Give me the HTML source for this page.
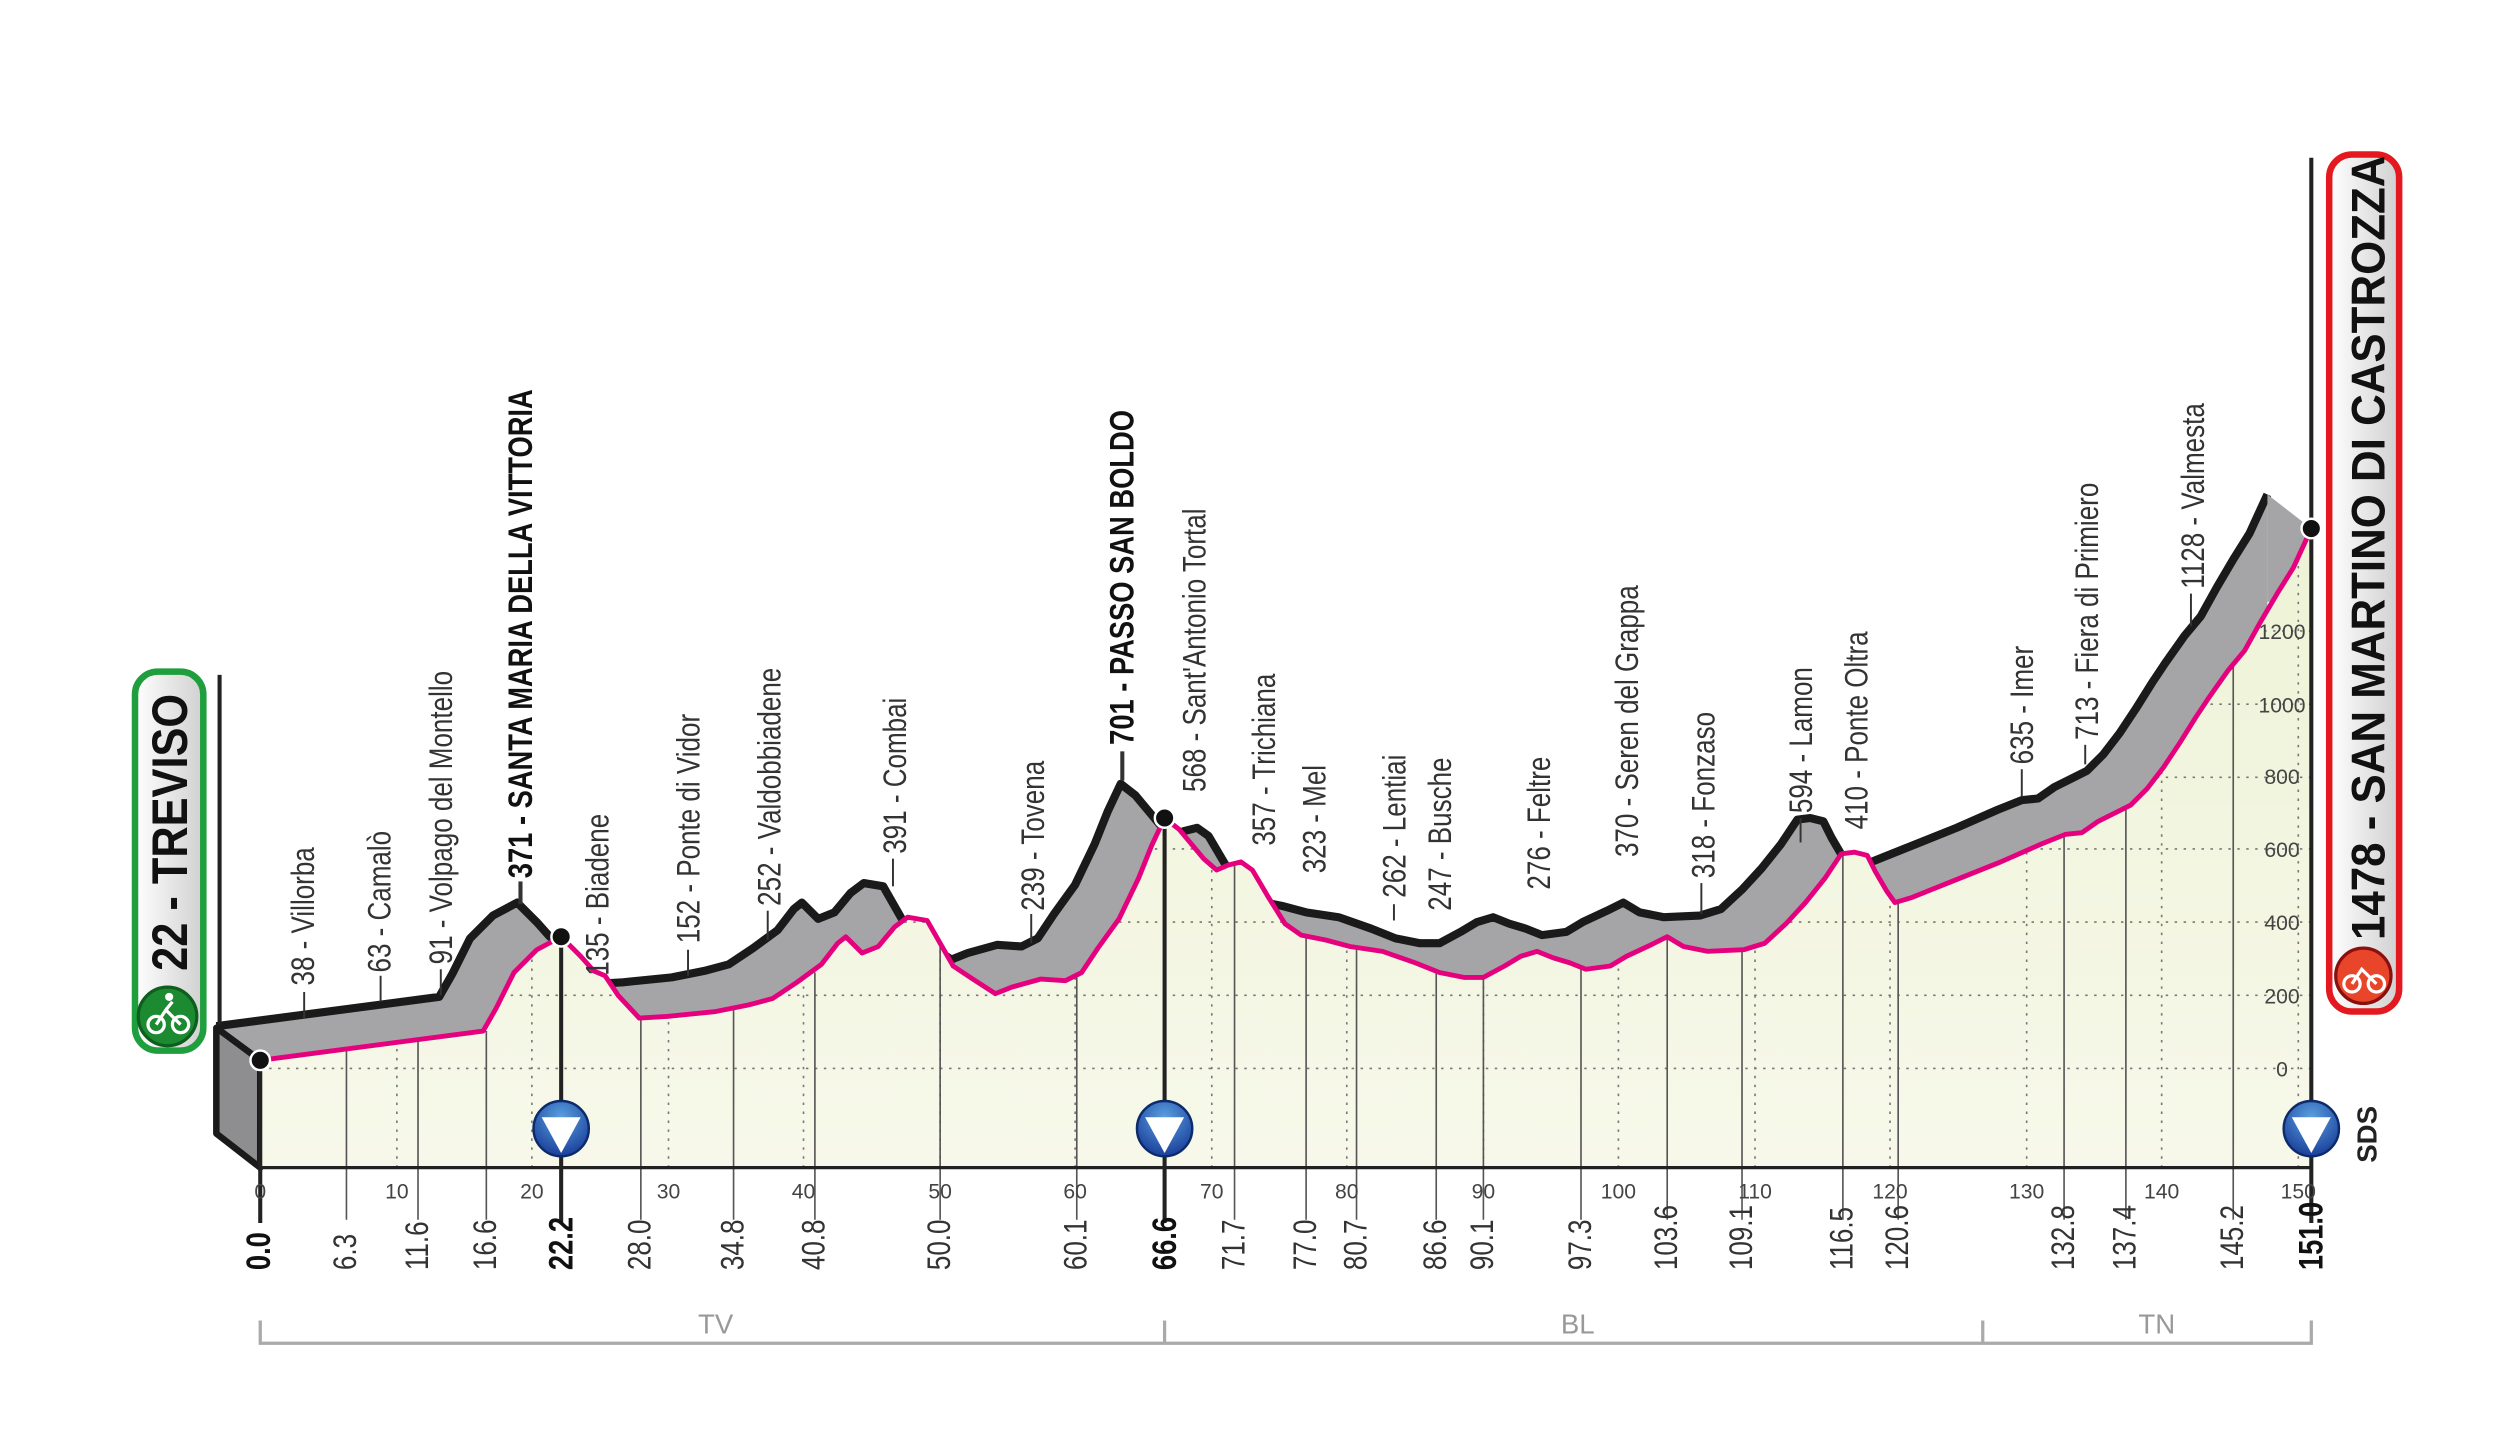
<!DOCTYPE html>
<html><head><meta charset="utf-8"><style>
html,body{margin:0;padding:0;background:#fff;}
svg{display:block}
.n{font-family:"Liberation Sans",sans-serif;font-size:20px;fill:#333}
.b{font-family:"Liberation Sans",sans-serif;font-size:21px;font-weight:bold;fill:#111}
.k{font-family:"Liberation Sans",sans-serif;font-size:13px;fill:#444}
</style></head><body>
<svg width="2513" height="1436" viewBox="0 0 1545 883" preserveAspectRatio="none" xmlns="http://www.w3.org/2000/svg">
<defs>
<linearGradient id="pale" x1="0" y1="0" x2="0" y2="1"><stop offset="0" stop-color="#eef3d6"/><stop offset="1" stop-color="#f7f8ea"/></linearGradient>
<linearGradient id="gr" x1="0" y1="0" x2="1" y2="0"><stop offset="0" stop-color="#fff"/><stop offset="1" stop-color="#d0d0d0"/></linearGradient>
<radialGradient id="blue" cx="0.5" cy="0.3" r="0.7"><stop offset="0" stop-color="#5aa0e0"/><stop offset="1" stop-color="#1a3f9a"/></radialGradient>
<polyline id="prof" points="160,652 297,634 305,620 316,598 330,584 345,576 357,588 365,597 372,600 380,612 393,626 410,625 440,622 460,618 475,614 490,604 505,593 515,580 520,576 530,586 540,582 550,570 558,564 570,566 578,580 586,594 598,602 612,611 622,607 640,602 655,603 665,598 675,583 688,565 700,540 708,520 716,503 725,510 740,528 748,535 755,532 763,530 770,535 780,552 790,568 800,575 815,578 830,582 850,585 870,592 885,598 900,601 912,601 925,594 935,588 945,585 955,589 965,592 975,596 990,594 1000,588 1015,581 1025,576 1035,582 1050,585 1072,584 1085,580 1098,568 1110,555 1122,540 1132,525 1140,524 1148,526 1153,536 1160,548 1165,555 1175,552 1200,542 1230,530 1255,519 1270,513 1280,512 1290,505 1310,495 1320,485 1330,472 1340,457 1350,441 1358,429 1370,412 1380,400 1390,382 1400,365 1410,349 1421,325"/>
<polygon id="front" points="160,652 297,634 305,620 316,598 330,584 345,576 357,588 365,597 372,600 380,612 393,626 410,625 440,622 460,618 475,614 490,604 505,593 515,580 520,576 530,586 540,582 550,570 558,564 570,566 578,580 586,594 598,602 612,611 622,607 640,602 655,603 665,598 675,583 688,565 700,540 708,520 716,503 725,510 740,528 748,535 755,532 763,530 770,535 780,552 790,568 800,575 815,578 830,582 850,585 870,592 885,598 900,601 912,601 925,594 935,588 945,585 955,589 965,592 975,596 990,594 1000,588 1015,581 1025,576 1035,582 1050,585 1072,584 1085,580 1098,568 1110,555 1122,540 1132,525 1140,524 1148,526 1153,536 1160,548 1165,555 1175,552 1200,542 1230,530 1255,519 1270,513 1280,512 1290,505 1310,495 1320,485 1330,472 1340,457 1350,441 1358,429 1370,412 1380,400 1390,382 1400,365 1410,349 1421,325 1421,718 160,718"/>
<clipPath id="fc"><use href="#front"/></clipPath>
</defs>
<!-- back -->
<g transform="translate(-27,-21)">
<use href="#front" fill="#a5a5a7"/>
<use href="#prof" fill="none" stroke="#1a1a1a" stroke-width="5" stroke-linejoin="round"/>
</g>
<polygon points="1394,304 1421,325 1421,370 1394,370" fill="#a5a5a7"/>
<polygon points="133,632 160,652 160,718 133,697" fill="#8e8e90" stroke="#1a1a1a" stroke-width="4" stroke-linejoin="round"/>
<!-- front -->
<use href="#front" fill="url(#pale)"/>
<!-- grid -->
<g stroke="#777" stroke-width="1" stroke-dasharray="1.5,4" clip-path="url(#fc)">
<line x1="160" y1="657" x2="1421" y2="657"/><line x1="160" y1="612" x2="1421" y2="612"/><line x1="160" y1="567" x2="1421" y2="567"/>
<line x1="160" y1="522" x2="1421" y2="522"/><line x1="160" y1="478" x2="1421" y2="478"/><line x1="160" y1="433" x2="1421" y2="433"/><line x1="160" y1="388" x2="1421" y2="388"/>
<line x1="244" y1="718" x2="244" y2="300"/><line x1="327" y1="718" x2="327" y2="300"/><line x1="411" y1="718" x2="411" y2="300"/><line x1="494" y1="718" x2="494" y2="300"/><line x1="578" y1="718" x2="578" y2="300"/><line x1="661" y1="718" x2="661" y2="300"/><line x1="745" y1="718" x2="745" y2="300"/><line x1="828" y1="718" x2="828" y2="300"/><line x1="912" y1="718" x2="912" y2="300"/><line x1="995" y1="718" x2="995" y2="300"/><line x1="1079" y1="718" x2="1079" y2="300"/><line x1="1162" y1="718" x2="1162" y2="300"/><line x1="1246" y1="718" x2="1246" y2="300"/><line x1="1329" y1="718" x2="1329" y2="300"/><line x1="1413" y1="718" x2="1413" y2="300"/>
</g>
<g stroke="#555" stroke-width="1">
<line x1="213" y1="750" x2="213" y2="646"/><line x1="257" y1="750" x2="257" y2="640"/><line x1="299" y1="750" x2="299" y2="634"/><line x1="394" y1="750" x2="394" y2="626"/><line x1="451" y1="750" x2="451" y2="620"/><line x1="501" y1="750" x2="501" y2="598"/><line x1="578" y1="750" x2="578" y2="580"/><line x1="662" y1="750" x2="662" y2="601"/><line x1="759" y1="750" x2="759" y2="530"/><line x1="803" y1="750" x2="803" y2="575"/><line x1="834" y1="750" x2="834" y2="582"/><line x1="883" y1="750" x2="883" y2="597"/><line x1="912" y1="750" x2="912" y2="601"/><line x1="972" y1="750" x2="972" y2="596"/><line x1="1025" y1="750" x2="1025" y2="577"/><line x1="1071" y1="750" x2="1071" y2="584"/><line x1="1133" y1="750" x2="1133" y2="525"/><line x1="1167" y1="750" x2="1167" y2="553"/><line x1="1269" y1="750" x2="1269" y2="514"/><line x1="1307" y1="750" x2="1307" y2="497"/><line x1="1373" y1="750" x2="1373" y2="410"/>
</g>
<use href="#prof" fill="none" stroke="#e5007e" stroke-width="3" stroke-linejoin="round"/>
<!-- axis -->
<line x1="160" y1="718" x2="1421" y2="718" stroke="#222" stroke-width="2"/>
<line x1="160" y1="652" x2="160" y2="752" stroke="#222" stroke-width="2.5"/>
<line x1="345" y1="576" x2="345" y2="752" stroke="#222" stroke-width="2.5"/>
<line x1="716" y1="503" x2="716" y2="752" stroke="#222" stroke-width="2.5"/>
<line x1="1421" y1="97" x2="1421" y2="752" stroke="#222" stroke-width="2.5"/>
<line x1="135" y1="415" x2="135" y2="630" stroke="#222" stroke-width="2.5"/>
<circle cx="160" cy="652" r="6" fill="#111" stroke="#fff" stroke-width="1.5"/>
<circle cx="345" cy="576" r="6" fill="#111" stroke="#fff" stroke-width="1.5"/>
<circle cx="716" cy="503" r="6" fill="#111" stroke="#fff" stroke-width="1.5"/>
<circle cx="1421" cy="325" r="6" fill="#111" stroke="#fff" stroke-width="1.5"/>
<!-- y labels -->
<g class="k" text-anchor="middle">
<text x="1403" y="662">0</text><text x="1403" y="617">200</text><text x="1403" y="572">400</text><text x="1403" y="527">600</text><text x="1403" y="482">800</text><text x="1403" y="438">1000</text><text x="1403" y="393">1200</text>
<text x="160" y="737">0</text><text x="244" y="737">10</text><text x="327" y="737">20</text><text x="411" y="737">30</text><text x="494" y="737">40</text><text x="578" y="737">50</text><text x="661" y="737">60</text><text x="745" y="737">70</text><text x="828" y="737">80</text><text x="912" y="737">90</text><text x="995" y="737">100</text><text x="1079" y="737">110</text><text x="1162" y="737">120</text><text x="1246" y="737">130</text><text x="1329" y="737">140</text><text x="1413" y="737">150</text>
</g>
<!-- distance labels -->
<g class="n">
<text transform="translate(166,781) rotate(-90) scale(0.8,1)" class="b">0.0</text>
<text transform="translate(219,781) rotate(-90) scale(0.8,1)">6.3</text>
<text transform="translate(263,781) rotate(-90) scale(0.8,1)">11.6</text>
<text transform="translate(305,781) rotate(-90) scale(0.8,1)">16.6</text>
<text transform="translate(352,781) rotate(-90) scale(0.8,1)" class="b">22.2</text>
<text transform="translate(400,781) rotate(-90) scale(0.8,1)">28.0</text>
<text transform="translate(457,781) rotate(-90) scale(0.8,1)">34.8</text>
<text transform="translate(507,781) rotate(-90) scale(0.8,1)">40.8</text>
<text transform="translate(584,781) rotate(-90) scale(0.8,1)">50.0</text>
<text transform="translate(668,781) rotate(-90) scale(0.8,1)">60.1</text>
<text transform="translate(723,781) rotate(-90) scale(0.8,1)" class="b">66.6</text>
<text transform="translate(765,781) rotate(-90) scale(0.8,1)">71.7</text>
<text transform="translate(809,781) rotate(-90) scale(0.8,1)">77.0</text>
<text transform="translate(840,781) rotate(-90) scale(0.8,1)">80.7</text>
<text transform="translate(889,781) rotate(-90) scale(0.8,1)">86.6</text>
<text transform="translate(918,781) rotate(-90) scale(0.8,1)">90.1</text>
<text transform="translate(978,781) rotate(-90) scale(0.8,1)">97.3</text>
<text transform="translate(1031,781) rotate(-90) scale(0.8,1)">103.6</text>
<text transform="translate(1077,781) rotate(-90) scale(0.8,1)">109.1</text>
<text transform="translate(1139,781) rotate(-90) scale(0.8,1)">116.5</text>
<text transform="translate(1173,781) rotate(-90) scale(0.8,1)">120.6</text>
<text transform="translate(1275,781) rotate(-90) scale(0.8,1)">132.8</text>
<text transform="translate(1313,781) rotate(-90) scale(0.8,1)">137.4</text>
<text transform="translate(1379,781) rotate(-90) scale(0.8,1)">145.2</text>
<text transform="translate(1428,781) rotate(-90) scale(0.8,1)" class="b">151.0</text>
</g>
<!-- place labels -->
<g stroke="#333" stroke-width="1.2">
<line x1="187" y1="610" x2="187" y2="626"/><line x1="234" y1="600" x2="234" y2="616"/><line x1="271" y1="596" x2="271" y2="612"/>
<line x1="320" y1="542" x2="320" y2="556" stroke-width="2.5"/><line x1="690" y1="462" x2="690" y2="480" stroke-width="2.5"/>
<line x1="423" y1="584" x2="423" y2="600"/><line x1="472" y1="560" x2="472" y2="578"/><line x1="549" y1="528" x2="549" y2="545"/><line x1="634" y1="562" x2="634" y2="580"/>
<line x1="857" y1="556" x2="857" y2="566"/><line x1="1046" y1="543" x2="1046" y2="562"/><line x1="1107" y1="503" x2="1107" y2="518"/><line x1="1243" y1="473" x2="1243" y2="490"/><line x1="1282" y1="458" x2="1282" y2="470"/><line x1="1347" y1="365" x2="1347" y2="385"/>
</g>
<g class="n">
<text transform="translate(193,606) rotate(-90) scale(0.8,1)">38 - Villorba</text>
<text transform="translate(240,598) rotate(-90) scale(0.8,1)">63 - Camalò</text>
<text transform="translate(278,593) rotate(-90) scale(0.8,1)">91 - Volpago del Montello</text>
<text transform="translate(327,540) rotate(-90) scale(0.8,1)" class="b">371 - SANTA MARIA DELLA VITTORIA</text>
<text transform="translate(374,600) rotate(-90) scale(0.8,1)">135 - Biadene</text>
<text transform="translate(430,580) rotate(-90) scale(0.8,1)">152 - Ponte di Vidor</text>
<text transform="translate(480,557) rotate(-90) scale(0.8,1)">252 - Valdobbiadene</text>
<text transform="translate(557,525) rotate(-90) scale(0.8,1)">391 - Combai</text>
<text transform="translate(642,560) rotate(-90) scale(0.8,1)">239 - Tovena</text>
<text transform="translate(697,458) rotate(-90) scale(0.8,1)" class="b">701 - PASSO SAN BOLDO</text>
<text transform="translate(741,487) rotate(-90) scale(0.8,1)">568 - Sant'Antonio Tortal</text>
<text transform="translate(784,520) rotate(-90) scale(0.8,1)">357 - Trichiana</text>
<text transform="translate(815,537) rotate(-90) scale(0.8,1)">323 - Mel</text>
<text transform="translate(864,552) rotate(-90) scale(0.8,1)">262 - Lentiai</text>
<text transform="translate(892,560) rotate(-90) scale(0.8,1)">247 - Busche</text>
<text transform="translate(953,547) rotate(-90) scale(0.8,1)">276 - Feltre</text>
<text transform="translate(1007,527) rotate(-90) scale(0.8,1)">370 - Seren del Grappa</text>
<text transform="translate(1054,540) rotate(-90) scale(0.8,1)">318 - Fonzaso</text>
<text transform="translate(1114,500) rotate(-90) scale(0.8,1)">594 - Lamon</text>
<text transform="translate(1148,510) rotate(-90) scale(0.8,1)">410 - Ponte Oltra</text>
<text transform="translate(1250,470) rotate(-90) scale(0.8,1)">635 - Imer</text>
<text transform="translate(1290,455) rotate(-90) scale(0.8,1)">713 - Fiera di Primiero</text>
<text transform="translate(1355,362) rotate(-90) scale(0.8,1)">1128 - Valmesta</text>
</g>
<!-- blue markers -->
<g>
<circle cx="345" cy="694" r="17" fill="url(#blue)" stroke="#0d2a6a" stroke-width="1.5"/><polygon points="333,687 357,687 345,709" fill="#fff"/>
<circle cx="716" cy="694" r="17" fill="url(#blue)" stroke="#0d2a6a" stroke-width="1.5"/><polygon points="704,687 728,687 716,709" fill="#fff"/>
<circle cx="1421" cy="694" r="17" fill="url(#blue)" stroke="#0d2a6a" stroke-width="1.5"/><polygon points="1409,687 1433,687 1421,709" fill="#fff"/>
</g>
<text transform="translate(1461,715) rotate(-90)" style="font-family:'Liberation Sans',sans-serif;font-weight:bold;font-size:17px;fill:#222">SDS</text>
<!-- start badge -->
<rect x="83" y="413" width="42" height="233" rx="14" fill="url(#gr)" stroke="#1e9e3c" stroke-width="4"/>
<circle cx="103" cy="625" r="18" fill="#1b8a30" stroke="#0d5e1f" stroke-width="2"/>
<g stroke="#fff" stroke-width="2" fill="none"><circle cx="96" cy="630" r="5"/><circle cx="111" cy="630" r="5"/><path d="M96,630 L102,621 L111,630 M102,621 L106,616"/></g>
<circle cx="104" cy="613" r="2.5" fill="#fff"/>
<text transform="translate(115,597) rotate(-90) scale(0.86,1)" style="font-family:'Liberation Sans',sans-serif;font-weight:bold;font-size:31px;fill:#111">22 - TREVISO</text>
<!-- finish badge -->
<rect x="1432" y="95" width="43" height="527" rx="14" fill="url(#gr)" stroke="#e3191f" stroke-width="4"/>
<circle cx="1453" cy="600" r="17" fill="#e8452a" stroke="#8a1010" stroke-width="2"/>
<g stroke="#fff" stroke-width="2" fill="none"><circle cx="1446" cy="605" r="5"/><circle cx="1461" cy="605" r="5"/><path d="M1446,605 L1452,596 L1461,605"/></g>
<text transform="translate(1466,578) rotate(-90) scale(0.93,1)" style="font-family:'Liberation Sans',sans-serif;font-weight:bold;font-size:29px;fill:#111">1478 - SAN MARTINO DI CASTROZZA</text>
<!-- regions -->
<g stroke="#aaa" stroke-width="2" fill="none">
<polyline points="160,812 160,826 1421,826 1421,812"/><line x1="716" y1="812" x2="716" y2="826"/><line x1="1219" y1="812" x2="1219" y2="826"/>
</g>
<g style="font-family:'Liberation Sans',sans-serif;font-size:17px;fill:#999" text-anchor="middle">
<text x="440" y="820">TV</text><text x="970" y="820">BL</text><text x="1326" y="820">TN</text>
</g>
</svg>
</body></html>
